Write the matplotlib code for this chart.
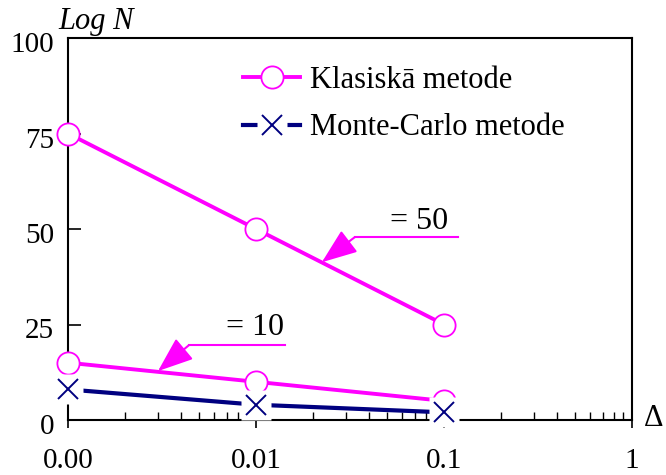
import matplotlib
matplotlib.use("Agg")
import matplotlib.pyplot as plt
import matplotlib.transforms as mtransforms
from matplotlib.lines import Line2D
from matplotlib.legend_handler import HandlerBase
from matplotlib.ticker import LogLocator, NullFormatter, FixedLocator, FixedFormatter

plt.rcParams['font.family'] = ['Liberation Serif', 'DejaVu Serif']

# ---- data ----
delta = [0.001, 0.01, 0.1]
klas_50 = [75, 50, 25]
klas_10 = [15, 10, 5]
monte_carlo = [8, 4, 2]
x_ticks = [0.001, 0.01, 0.1, 1]
x_ticklabels = ['0.00', '0.01', '0.1', '1']
y_ticks = [0, 25, 50, 75, 100]
label_klas = 'Klasiskā metode'
label_mc = 'Monte-Carlo metode'
ann_50 = '= 50'
ann_10 = '= 10'

MAG = '#FF00FF'
NAVY = '#000080'


class HandlerOverlay(HandlerBase):
    """Draw every handle of a tuple on top of each other."""
    def create_artists(self, legend, orig_handle, xdescent, ydescent,
                       width, height, fontsize, trans):
        artists = []
        hmap = legend.get_legend_handler_map()
        for h in orig_handle:
            handler = legend.get_legend_handler(hmap, h)
            artists.extend(handler.create_artists(legend, h, xdescent, ydescent,
                                                  width, height, fontsize, trans))
        return artists


fig = plt.figure(figsize=(6.66, 4.75), dpi=100)
ax = fig.add_axes([68/666, 55/475, (632-68)/666, (420-38)/475])
ax.set_xscale('log')
ax.set_xlim(0.001, 1)
ax.set_ylim(0, 100)

circ = dict(marker='o', markersize=16, markerfacecolor='white',
            markeredgecolor=MAG, markeredgewidth=1.3)
ax.plot(delta, klas_50, color=MAG, lw=2.8, clip_on=False, zorder=4, **circ)
ax.plot(delta, klas_10, color=MAG, lw=2.8, clip_on=False, zorder=4, **circ)

ax.plot(delta, monte_carlo, color=NAVY, lw=3.0, clip_on=False, zorder=5)
ax.plot(delta, monte_carlo, ls='none', marker='s', markersize=21,
        markerfacecolor='white', markeredgecolor='none', clip_on=False, zorder=6)
ax.plot(delta, monte_carlo, ls='none', marker='x', markersize=15,
        markeredgecolor=NAVY, markeredgewidth=1.4, clip_on=False, zorder=7)

# legend
h_klas = Line2D([], [], color=MAG, lw=2.8, **circ)
h_mc = (Line2D([], [], color=NAVY, lw=3.0),
        Line2D([], [], ls='none', marker='s', markersize=21,
               markerfacecolor='white', markeredgecolor='none'),
        Line2D([], [], ls='none', marker='x', markersize=15,
               markeredgecolor=NAVY, markeredgewidth=1.4))
leg = ax.legend([h_klas, h_mc], [label_klas, label_mc],
                handler_map={tuple: HandlerOverlay()},
                loc='upper left', bbox_to_anchor=(243/666, 1 - 66/475),
                bbox_transform=fig.transFigure, frameon=False, fontsize=22,
                handlelength=1.87, handletextpad=0.33, labelspacing=0.6,
                numpoints=1, borderpad=0, borderaxespad=0)

# annotations
arrow_style = dict(arrowstyle='-|>,head_length=1.1,head_width=0.42',
                   color=MAG, lw=1.5, mutation_scale=20, shrinkA=0, shrinkB=0)
ax.text(0.105, 52.0, ann_50, ha='right', va='center', fontsize=23)
ax.plot([0.1186, 0.0336], [47.9, 47.9], color=MAG, lw=1.5, zorder=3)
ax.annotate('', xy=(0.0224, 41.3), xytext=(0.0336, 47.9),
            arrowprops=arrow_style, zorder=3)
ax.text(0.0141, 24.3, ann_10, ha='right', va='center', fontsize=23)
ax.plot([0.01426, 0.0044], [19.6, 19.6], color=MAG, lw=1.5, zorder=3)
ax.annotate('', xy=(0.00301, 12.8), xytext=(0.0044, 19.6),
            arrowprops=arrow_style, zorder=3)

# axes styling
for s in ax.spines.values():
    s.set_linewidth(1.5)
ax.xaxis.set_major_locator(FixedLocator(x_ticks))
ax.xaxis.set_major_formatter(FixedFormatter(x_ticklabels))
ax.xaxis.set_minor_locator(LogLocator(base=10, subs=range(2, 10)))
ax.xaxis.set_minor_formatter(NullFormatter())
ax.set_yticks(y_ticks)
ax.tick_params(axis='x', which='major', direction='inout', length=12, width=1.2,
               labelsize=21, pad=14, top=False)
ax.tick_params(axis='x', which='minor', direction='in', length=6, width=1.0, top=False)
ax.tick_params(axis='y', which='major', direction='in', length=9, width=1.2,
               labelsize=21, pad=10, right=False)
offset = mtransforms.ScaledTranslation(0, -4/100, fig.dpi_scale_trans)
for lab in ax.get_yticklabels():
    lab.set_transform(lab.get_transform() + offset)

fig.text(58/666, 1 - 22/475, 'Log N', fontsize=22, style='italic',
         ha='left', va='center')
fig.text(644/666, 1 - 418/475, 'Δ', fontsize=22, ha='left', va='center')

fig.savefig('out.png', dpi=100)
